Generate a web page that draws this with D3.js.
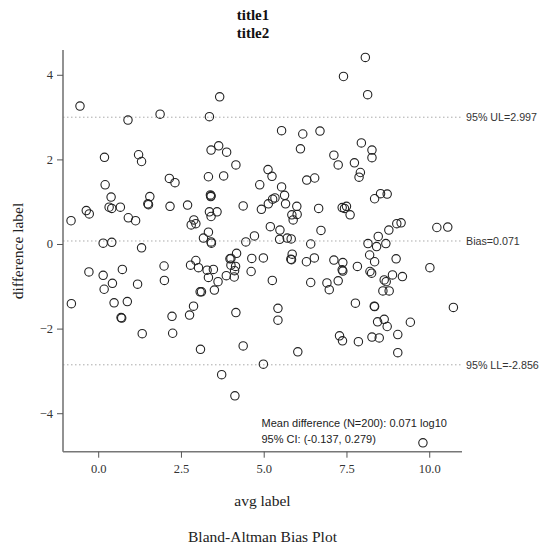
<!DOCTYPE html>
<html><head><meta charset="utf-8">
<script src="https://cdn.jsdelivr.net/npm/d3@7"></script>
<style>body{margin:0;background:#fff;}svg{display:block;}</style>
</head><body>
<svg id="chart" width="543" height="546"></svg>
<script>
const avgValues = [
-0.55,0.90,1.87,0.19,1.22,1.31,2.15,2.32,0.21,0.39,1.56,1.50,1.52,0.33,0.41,0.67,2.17,2.70,-0.36,-0.27,
-0.82,0.91,1.13,2.89,2.81,2.95,0.15,0.41,1.31,3.67,3.36,5.54,6.18,6.70,6.11,3.64,3.41,3.88,4.16,3.33,
3.79,5.13,5.25,4.88,6.30,6.54,5.54,3.39,3.40,3.41,5.63,4.38,5.27,5.34,5.14,4.93,5.66,6.00,3.36,3.59,
3.41,5.85,6.01,5.89,6.66,5.20,5.49,6.73,3.33,3.18,3.41,3.42,4.46,4.72,5.48,5.71,5.83,6.42,8.07,7.41,
8.14,7.95,8.27,8.27,7.12,7.25,7.74,7.92,7.88,8.35,8.53,8.73,7.37,7.50,7.44,7.61,8.78,9.02,9.15,10.23,
10.56,8.46,8.15,8.41,8.69,-0.28,0.15,0.73,0.43,0.18,1.19,1.99,2.00,2.79,2.95,3.03,-0.81,0.48,0.88,0.69,
0.71,1.33,2.23,2.25,2.76,2.88,3.09,3.08,3.12,3.29,3.48,3.33,3.62,3.87,3.98,4.01,4.18,4.01,4.15,4.12,
4.11,4.64,4.62,4.99,5.26,5.86,5.82,5.84,6.29,6.53,6.42,6.91,6.98,3.51,4.16,5.43,5.43,4.38,6.03,4.99,
3.73,4.13,7.12,7.39,7.37,7.39,7.83,8.20,8.35,8.21,8.26,9.00,8.89,9.19,8.64,8.70,8.60,8.79,10.02,7.25,
7.77,8.34,8.35,10.73,8.44,8.64,8.73,9.43,7.29,7.38,7.86,8.27,8.49,9.05,9.05,9.81
];
const diffValues = [
3.26,2.93,3.07,2.05,2.11,1.95,1.55,1.45,1.40,1.11,1.12,0.95,0.93,0.87,0.84,0.87,0.89,0.92,0.79,0.71,
0.55,0.62,0.55,0.57,0.45,0.48,0.02,0.04,-0.09,3.48,3.01,2.68,2.60,2.67,2.25,2.32,2.22,2.17,1.87,1.59,
1.61,1.76,1.60,1.40,1.51,1.56,1.35,1.16,1.12,1.14,1.15,0.90,1.06,1.09,0.95,0.82,0.95,0.89,0.76,0.76,
0.65,0.69,0.70,0.57,0.84,0.41,0.33,0.32,0.28,0.14,0.05,0.02,0.05,0.19,0.11,0.14,0.12,0.00,4.41,3.96,
3.53,2.39,2.22,2.04,2.10,1.87,1.92,1.69,1.58,1.07,1.19,1.18,0.86,0.89,0.84,0.69,0.33,0.48,0.50,0.39,
0.40,0.18,0.01,-0.06,0.01,-0.66,-0.74,-0.60,-0.93,-1.07,-0.95,-0.52,-0.86,-0.50,-0.39,-0.56,-1.41,-1.39,-1.36,-1.74,
-1.75,-2.12,-1.71,-2.11,-1.68,-1.47,-2.49,-1.13,-1.13,-0.62,-0.60,-0.79,-0.89,-0.75,-0.35,-0.34,-0.22,-0.50,-0.53,-0.63,
-0.78,-0.34,-0.65,-0.33,-0.86,-0.24,-0.36,-0.37,-0.42,-0.33,-0.91,-0.92,-1.08,-1.09,-1.62,-1.52,-1.80,-2.41,-2.55,-2.84,
-3.09,-3.59,-0.38,-0.44,-0.61,-0.64,-0.53,-0.26,-0.42,-0.65,-0.69,-0.35,-0.73,-0.77,-0.85,-0.89,-1.11,-1.11,-0.56,-0.87,
-1.40,-1.47,-1.48,-1.50,-1.84,-1.78,-1.95,-1.85,-2.17,-2.29,-2.31,-2.20,-2.22,-2.14,-2.57,-4.70
];
const xTicks = [0, 2.5, 5, 7.5, 10];
const yTicks = [-4, -2, 0, 2, 4];
const refLabels = ["95% UL=2.997", "Bias=0.071", "95% LL=-2.856"];
const refValues = [2.997, 0.071, -2.856];
const titles = ["title1", "title2"];
const xLabel = "avg label";
const yLabel = "difference label";
const footer = "Bland-Altman Bias Plot";
const noteLines = ["Mean difference (N=200): 0.071 log10", "95% CI: (-0.137, 0.279)"];

const svg = d3.select("#chart");
const pL = 63, pR = 462, pT = 50, pB = 451.7;
const x = d3.scaleLinear().domain([-1.063, 10.99]).range([pL, pR]);
const y = d3.scaleLinear().domain([-4.91, 4.586]).range([pB, pT]);
const serif = "'Liberation Serif','Times New Roman',serif";
const sans = "'Liberation Sans',Arial,sans-serif";

// titles
svg.selectAll("text.title").data(titles).enter().append("text")
  .attr("x", 253).attr("y", (d,i) => 20 + i*18)
  .attr("text-anchor", "middle").attr("font-family", serif)
  .attr("font-weight", "bold").attr("font-size", 15).attr("fill", "#111").text(d => d);

// reference lines
svg.selectAll("line.ref").data(refValues).enter().append("line")
  .attr("x1", pL).attr("x2", pR).attr("y1", d => y(d)).attr("y2", d => y(d))
  .attr("stroke", "#aaa").attr("stroke-width", 1).attr("stroke-dasharray", "1.5,2.5");
svg.selectAll("text.ref").data(refValues).enter().append("text")
  .attr("x", 466).attr("y", d => y(d) + 3.8)
  .attr("font-family", sans).attr("font-size", 10.7).attr("fill", "#333")
  .text((d,i) => refLabels[i]);

// axes
const xAxis = svg.append("g").attr("transform", `translate(0,${pB})`)
  .call(d3.axisBottom(x).tickValues(xTicks).tickFormat(d3.format(".1f")).tickSize(6).tickPadding(6));
const yAxis = svg.append("g").attr("transform", `translate(${pL},0)`)
  .call(d3.axisLeft(y).tickValues(yTicks).tickFormat(d3.format("d")).tickSize(6).tickPadding(4));
[xAxis, yAxis].forEach(g => {
  g.select(".domain").attr("stroke", "#777").attr("stroke-width", 1.6);
  g.selectAll(".tick line").attr("stroke", "#555").attr("stroke-width", 1);
  g.selectAll(".tick text").attr("font-family", serif).attr("font-size", 12.5).attr("fill", "#333");
});
xAxis.select(".domain").attr("d", `M${pL},0H${pR}`);
yAxis.select(".domain").attr("d", `M0,${pT}V${pB}`);

// points
svg.append("g").selectAll("circle").data(avgValues).enter().append("circle")
  .attr("cx", d => x(d)).attr("cy", (d,i) => y(diffValues[i])).attr("r", 4.2)
  .attr("fill", "none").attr("stroke", "#222").attr("stroke-width", 1.1);

// note
svg.selectAll("text.note").data(noteLines).enter().append("text")
  .attr("x", 261.5).attr("y", (d,i) => 427 + i*15.5)
  .attr("font-family", sans).attr("font-size", 11).attr("fill", "#222").text(d => d);

// axis titles
svg.append("text").attr("x", 262.5).attr("y", 506).attr("text-anchor", "middle")
  .attr("font-family", serif).attr("font-size", 15.5).attr("fill", "#222").text(xLabel);
svg.append("text").attr("transform", "translate(23,251) rotate(-90)").attr("text-anchor", "middle")
  .attr("font-family", serif).attr("font-size", 15.5).attr("fill", "#222").text(yLabel);
svg.append("text").attr("x", 262.5).attr("y", 542).attr("text-anchor", "middle")
  .attr("font-family", serif).attr("font-size", 15.5).attr("fill", "#222").text(footer);
</script>
</body></html>
